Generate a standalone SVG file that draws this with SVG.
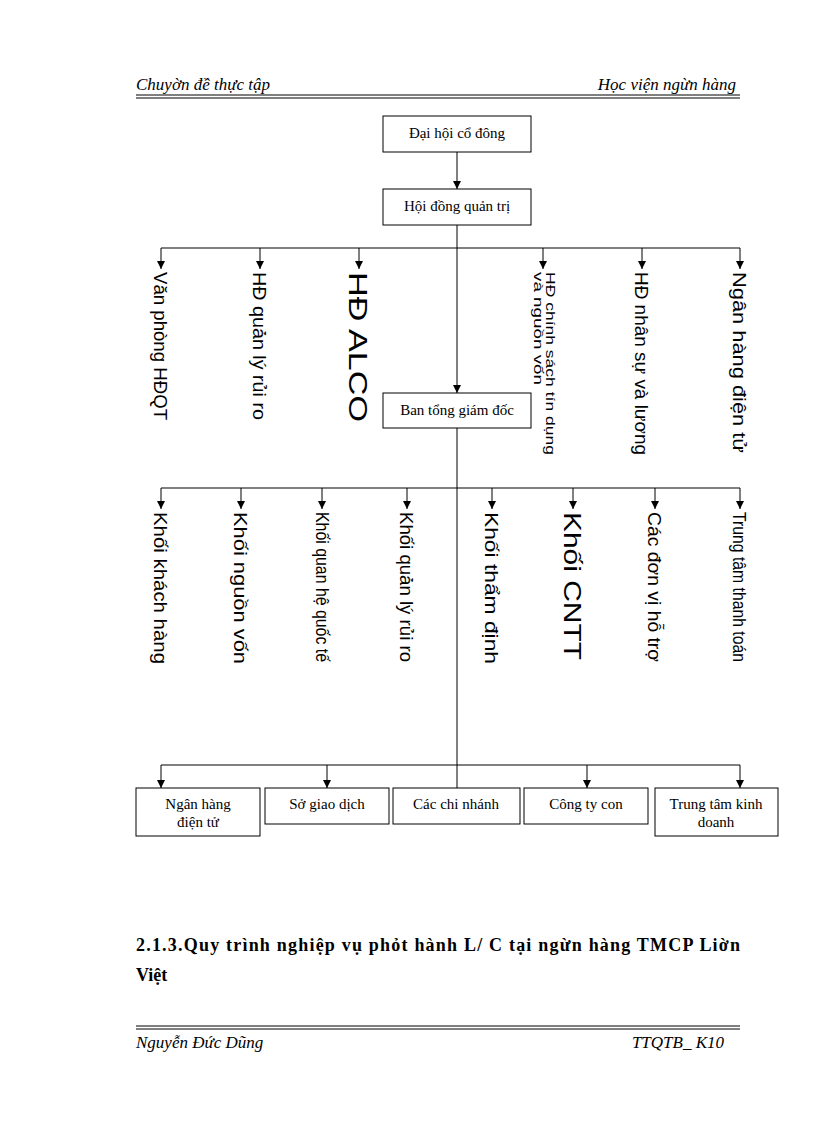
<svg xmlns="http://www.w3.org/2000/svg" width="816" height="1123" viewBox="0 0 816 1123">
<defs>
<marker id="ah" markerWidth="8" markerHeight="8" refX="8" refY="4" orient="auto" markerUnits="userSpaceOnUse" viewBox="0 0 8 8"><path d="M0,0 L8,4 L0,8 Z" fill="#000"/></marker>
</defs>
<style>
.box{fill:#fff;stroke:#000;stroke-width:1}
.t{font-family:"Liberation Serif",serif;font-size:15px;text-anchor:middle}
.v{font-family:"Liberation Sans",sans-serif;font-size:18px}
.ln{stroke:#000;stroke-width:1;fill:none}
.ar{stroke:#000;stroke-width:1;fill:none;marker-end:url(#ah)}
.hd{font-family:"Liberation Serif",serif;font-size:17px;font-style:italic}
</style>
<rect width="816" height="1123" fill="#fff"/>
<g id="header">
<text class="hd" x="136" y="90">Chuyờn đề thực tập</text>
<text class="hd" x="736" y="90" text-anchor="end">Học viện ngừn hàng</text>
<line x1="136" y1="95" x2="740" y2="95" stroke="#000" stroke-width="1"/>
<line x1="136" y1="98" x2="740" y2="98" stroke="#000" stroke-width="1"/>
</g>
<g id="connectors">
<line class="ar" x1="457" y1="152" x2="457" y2="189"/>
<line class="ar" x1="457" y1="225" x2="457" y2="393"/>
<line class="ln" x1="161" y1="248" x2="740" y2="248"/>
<line class="ar" x1="161" y1="248" x2="161" y2="269"/>
<line class="ar" x1="260" y1="248" x2="260" y2="269"/>
<line class="ar" x1="359" y1="248" x2="359" y2="269"/>
<line class="ar" x1="543" y1="248" x2="543" y2="269"/>
<line class="ar" x1="642" y1="248" x2="642" y2="269"/>
<line class="ar" x1="740" y1="248" x2="740" y2="269"/>
<line class="ln" x1="457" y1="428" x2="457" y2="788"/>
<line class="ln" x1="161" y1="488" x2="740" y2="488"/>
<line class="ar" x1="161" y1="488" x2="161" y2="509"/>
<line class="ar" x1="241" y1="488" x2="241" y2="509"/>
<line class="ar" x1="322" y1="488" x2="322" y2="509"/>
<line class="ar" x1="407" y1="488" x2="407" y2="509"/>
<line class="ar" x1="492" y1="488" x2="492" y2="509"/>
<line class="ar" x1="573" y1="488" x2="573" y2="509"/>
<line class="ar" x1="655" y1="488" x2="655" y2="509"/>
<line class="ar" x1="740" y1="488" x2="740" y2="509"/>
<line class="ln" x1="161" y1="765" x2="740" y2="765"/>
<line class="ar" x1="161" y1="765" x2="161" y2="788"/>
<line class="ar" x1="327" y1="765" x2="327" y2="788"/>
<line class="ar" x1="587" y1="765" x2="587" y2="788"/>
<line class="ar" x1="740" y1="765" x2="740" y2="788"/>
</g>
<g id="n-daihoi"><rect class="box" x="383" y="116" width="148" height="36"/><text class="t" x="457" y="138">Đại hội cổ đông</text></g>
<g id="n-hdqt"><rect class="box" x="383" y="189" width="148" height="36"/><text class="t" x="457" y="211">Hội đồng quản trị</text></g>
<g id="n-btgd"><rect class="box" x="383" y="393" width="148" height="35"/><text class="t" x="457" y="415">Ban tổng giám  đốc</text></g>
<g id="v1"><text class="v" textLength="148" lengthAdjust="spacingAndGlyphs" transform="translate(154,272) rotate(90)">Văn phòng HĐQT</text></g>
<g id="v2"><text class="v" textLength="148" lengthAdjust="spacingAndGlyphs" transform="translate(253,272) rotate(90)">HĐ quản lý rủi ro</text></g>
<g id="v3"><text class="v" style="font-size:26px" textLength="150" lengthAdjust="spacingAndGlyphs" transform="translate(349,272) rotate(90)">HĐ ALCO</text></g>
<g id="v4"><text class="v" style="font-size:12px" transform="translate(546,272) rotate(90)"><tspan x="0" y="0" textLength="183" lengthAdjust="spacingAndGlyphs">HĐ chính sách tín dụng</tspan><tspan x="0" y="12" textLength="113" lengthAdjust="spacingAndGlyphs">và nguồn vốn</tspan></text></g>
<g id="v5"><text class="v" textLength="183" lengthAdjust="spacingAndGlyphs" transform="translate(635,272) rotate(90)">HĐ nhân sự và lương</text></g>
<g id="v6"><text class="v" textLength="181" lengthAdjust="spacingAndGlyphs" transform="translate(733,272) rotate(90)">Ngân hàng điện tử</text></g>
<g id="w1"><text class="v" textLength="152" lengthAdjust="spacingAndGlyphs" transform="translate(154,512) rotate(90)">Khối khách hàng</text></g>
<g id="w2"><text class="v" textLength="152" lengthAdjust="spacingAndGlyphs" transform="translate(234,512) rotate(90)">Khối nguồn vốn</text></g>
<g id="w3"><text class="v" textLength="150" lengthAdjust="spacingAndGlyphs" transform="translate(316,512) rotate(90)">Khối quan hệ quốc tế</text></g>
<g id="w4"><text class="v" textLength="150" lengthAdjust="spacingAndGlyphs" transform="translate(400,512) rotate(90)">Khối quản lý rủi ro</text></g>
<g id="w5"><text class="v" textLength="152" lengthAdjust="spacingAndGlyphs" transform="translate(485,512) rotate(90)">Khối thẩm định</text></g>
<g id="w6"><text class="v" style="font-size:24px" textLength="148" lengthAdjust="spacingAndGlyphs" transform="translate(564,512) rotate(90)">Khối CNTT</text></g>
<g id="w7"><text class="v" textLength="150" lengthAdjust="spacingAndGlyphs" transform="translate(648,512) rotate(90)">Các đơn vị hỗ trợ</text></g>
<g id="w8"><text class="v" textLength="150" lengthAdjust="spacingAndGlyphs" transform="translate(733,512) rotate(90)">Trung tâm thanh toán</text></g>
<g id="b1"><rect class="box" x="136" y="788" width="124" height="48"/><text class="t" x="198" y="809">Ngân hàng</text><text class="t" x="198" y="827">điện tử</text></g>
<g id="b2"><rect class="box" x="265" y="788" width="124" height="36"/><text class="t" x="327" y="809">Sở giao  dịch</text></g>
<g id="b3"><rect class="box" x="393" y="788" width="127" height="36"/><text class="t" x="456" y="809">Các chi nhánh</text></g>
<g id="b4"><rect class="box" x="524" y="788" width="124" height="36"/><text class="t" x="586" y="809">Công ty con</text></g>
<g id="b5"><rect class="box" x="655" y="788" width="123" height="48"/><text class="t" x="716" y="809">Trung  tâm kinh</text><text class="t" x="716" y="827">doanh</text></g>
<g id="heading">
<text x="136" y="951" style="font-family:'Liberation Serif',serif;font-size:18px;font-weight:bold" textLength="604">2.1.3.Quy trình nghiệp vụ phỏt hành L/ C tại ngừn hàng TMCP Liờn</text>
<text x="136" y="981" style="font-family:'Liberation Serif',serif;font-size:18px;font-weight:bold">Việt</text>
</g>
<g id="footer">
<line x1="136" y1="1026" x2="740" y2="1026" stroke="#000"/>
<line x1="136" y1="1029" x2="740" y2="1029" stroke="#000"/>
<text class="hd" x="136" y="1048">Nguyễn Đức Dũng</text>
<text class="hd" x="724" y="1048" text-anchor="end">TTQTB_ K10</text>
</g>
</svg>
